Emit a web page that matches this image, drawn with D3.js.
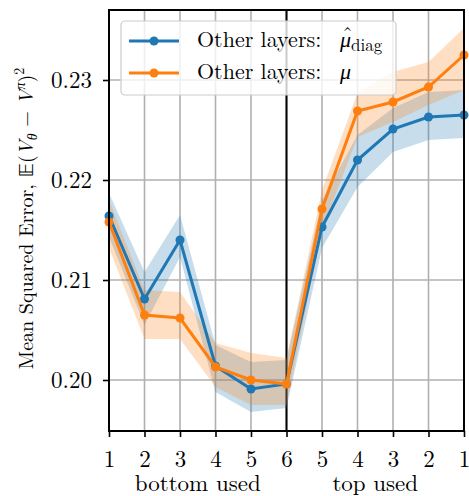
<!DOCTYPE html>
<html>
<head>
<meta charset="utf-8">
<script src="https://cdn.jsdelivr.net/npm/d3@7.9.0/dist/d3.min.js"></script>
<style>
  body { margin: 0; background: #fff; }
  svg text { font-family: "Latin Modern Roman", "Liberation Serif", "DejaVu Serif", serif; fill: #000; }
</style>
</head>
<body>
<div id="chart"></div>
<script>
// values
const xLabels = ['1', '2', '3', '4', '5', '6', '5', '4', '3', '2', '1'];
const yTicks = [0.20, 0.21, 0.22, 0.23];

const diagMean = [0.2164, 0.2081, 0.2140, 0.2014, 0.1991, 0.1996, 0.2153, 0.2220, 0.2251, 0.2263, 0.2265];
const diagLow  = [0.2143, 0.2055, 0.2123, 0.1988, 0.1968, 0.1972, 0.2132, 0.2193, 0.2228, 0.2240, 0.2242];
const diagHigh = [0.2187, 0.2108, 0.2165, 0.2035, 0.2018, 0.2020, 0.2180, 0.2245, 0.2272, 0.2288, 0.2290];

const muMean = [0.2158, 0.2065, 0.2062, 0.2013, 0.2000, 0.1996, 0.2171, 0.2269, 0.2278, 0.2293, 0.2325];
const muLow  = [0.2132, 0.2041, 0.2041, 0.1993, 0.1975, 0.1975, 0.2150, 0.2243, 0.2258, 0.2275, 0.2290];
const muHigh = [0.2180, 0.2090, 0.2088, 0.2037, 0.2027, 0.2022, 0.2190, 0.2287, 0.2308, 0.2318, 0.2352];

const width = 469;
const height = 496;
const margin = { top: 10, right: 5, bottom: 65, left: 109 };

const usableArea = {
  top: margin.top,
  right: width - margin.right,
  bottom: height - margin.bottom,
  left: margin.left,
};

const svg = d3.select('#chart')
  .append('svg')
  .attr('width', width)
  .attr('height', height);

const xScale = d3.scaleLinear()
  .domain([0, xLabels.length - 1])
  .range([usableArea.left, usableArea.right]);

const yScale = d3.scaleLinear()
  .domain([0.1949, 0.2370])
  .range([usableArea.bottom, usableArea.top]);

// gridlines
const grid = svg.append('g').attr('class', 'grid');
grid.selectAll('line.v')
  .data(xLabels)
  .join('line')
  .attr('class', 'v')
  .attr('x1', (d, i) => xScale(i)).attr('x2', (d, i) => xScale(i))
  .attr('y1', usableArea.top).attr('y2', usableArea.bottom)
  .attr('stroke', '#b0b0b0').attr('stroke-width', 1.6);
grid.selectAll('line.h')
  .data(yTicks)
  .join('line')
  .attr('class', 'h')
  .attr('x1', usableArea.left).attr('x2', usableArea.right)
  .attr('y1', (d) => yScale(d)).attr('y2', (d) => yScale(d))
  .attr('stroke', '#b0b0b0').attr('stroke-width', 1.6);

// boundary between "bottom used" and "top used"
svg.append('line')
  .attr('x1', xScale(5)).attr('x2', xScale(5))
  .attr('y1', usableArea.top).attr('y2', usableArea.bottom)
  .attr('stroke', '#000').attr('stroke-width', 2);

const series = [
  { mean: diagMean, low: diagLow, high: diagHigh, color: '#1f77b4' },
  { mean: muMean, low: muLow, high: muHigh, color: '#ff7f0e' },
];

const area = d3.area()
  .x((d, i) => xScale(i))
  .y0((d) => yScale(d[0]))
  .y1((d) => yScale(d[1]));

const line = d3.line()
  .x((d, i) => xScale(i))
  .y((d) => yScale(d));

series.forEach((s) => {
  svg.append('path')
    .datum(s.low.map((v, i) => [v, s.high[i]]))
    .attr('d', area)
    .attr('fill', s.color)
    .attr('fill-opacity', 0.25);
});

series.forEach((s) => {
  svg.append('path')
    .datum(s.mean)
    .attr('d', line)
    .attr('fill', 'none')
    .attr('stroke', s.color)
    .attr('stroke-width', 3);
  svg.append('g')
    .selectAll('circle')
    .data(s.mean)
    .join('circle')
    .attr('cx', (d, i) => xScale(i))
    .attr('cy', (d) => yScale(d))
    .attr('r', 4.5)
    .attr('fill', s.color);
});

// frame
svg.append('rect')
  .attr('x', usableArea.left).attr('y', usableArea.top)
  .attr('width', usableArea.right - usableArea.left)
  .attr('height', usableArea.bottom - usableArea.top)
  .attr('fill', 'none').attr('stroke', '#000').attr('stroke-width', 2);

// axes
const xAxis = d3.axisBottom(xScale)
  .tickValues(d3.range(xLabels.length))
  .tickFormat((i) => xLabels[i])
  .tickSize(6);
const gx = svg.append('g')
  .attr('transform', `translate(0, ${usableArea.bottom})`)
  .call(xAxis);
gx.selectAll('text').attr('y', 36).attr('dy', 0);

const yAxis = d3.axisLeft(yScale)
  .tickValues(yTicks)
  .tickFormat(d3.format('.2f'))
  .tickSize(6).tickPadding(11);
const gy = svg.append('g')
  .attr('transform', `translate(${usableArea.left}, 0)`)
  .call(yAxis);
gy.selectAll('text').attr('dy', '0.33em');

[gx, gy].forEach((g) => {
  g.select('.domain').remove();
  g.selectAll('line').attr('stroke', '#000').attr('stroke-width', 1.6);
  g.selectAll('text').style('font-size', '23px').attr('font-family', null);
});

// x axis group labels
svg.append('text')
  .attr('x', (xScale(0) + xScale(5)) / 2).attr('y', 491)
  .attr('text-anchor', 'middle').style('font-size', '23px')
  .text('bottom used');
svg.append('text')
  .attr('x', (xScale(5) + xScale(10)) / 2).attr('y', 491)
  .attr('text-anchor', 'middle').style('font-size', '23px')
  .text('top used');

// y label
const yl = svg.append('text')
  .attr('transform', `translate(33, ${(usableArea.top + usableArea.bottom) / 2 - 2}) rotate(-90)`)
  .attr('text-anchor', 'middle')
  .style('font-size', '20px');
yl.append('tspan').text('Mean Squared Error, ');
yl.append('tspan').text('\u{1D53C}').style('font-family', '"DejaVu Sans", "DejaVu Serif"');
yl.append('tspan').text('(');
yl.append('tspan').text('V').style('font-style', 'italic');
yl.append('tspan').text('θ').style('font-style', 'italic').style('font-size', '14px').attr('dy', 4);
yl.append('tspan').text(' − ').attr('dy', -4);
yl.append('tspan').text('V').style('font-style', 'italic');
yl.append('tspan').text('π').style('font-style', 'italic').style('font-size', '14px').attr('dy', -8);
yl.append('tspan').text(')').attr('dy', 8);
yl.append('tspan').text('2').style('font-size', '14px').attr('dy', -9);

// legend
const legend = svg.append('g');
legend.append('rect')
  .attr('x', 121).attr('y', 21).attr('width', 275).attr('height', 74)
  .attr('rx', 4)
  .attr('fill', '#fff').attr('fill-opacity', 0.8)
  .attr('stroke', '#cccccc').attr('stroke-width', 1.2);

const legendRows = [
  { color: '#1f77b4', y: 41, sym: 'μ', hat: true, sub: 'diag' },
  { color: '#ff7f0e', y: 73, sym: 'μ', hat: false, sub: null },
];
legendRows.forEach((r) => {
  legend.append('line')
    .attr('x1', 129).attr('x2', 179).attr('y1', r.y).attr('y2', r.y)
    .attr('stroke', r.color).attr('stroke-width', 3);
  legend.append('circle')
    .attr('cx', 154).attr('cy', r.y).attr('r', 4.5).attr('fill', r.color);
  const t = legend.append('text')
    .attr('x', 197).attr('y', r.y + 6)
    .style('font-size', '22px');
  t.append('tspan').text('Other layers:');
  const mu = t.append('tspan').attr('x', 340).text(r.sym).style('font-style', 'italic');
  if (r.sub) {
    t.append('tspan').text(r.sub).style('font-size', '17px').attr('dy', 4);
  }
  if (r.hat) {
    // circumflex over the mu
    const w = mu.node().getComputedTextLength();
    legend.append('text')
      .attr('x', 340 + w / 2 + 2).attr('y', r.y + 1)
      .attr('text-anchor', 'middle')
      .style('font-size', '22px')
      .text('ˆ');
  }
});
</script>
</body>
</html>
